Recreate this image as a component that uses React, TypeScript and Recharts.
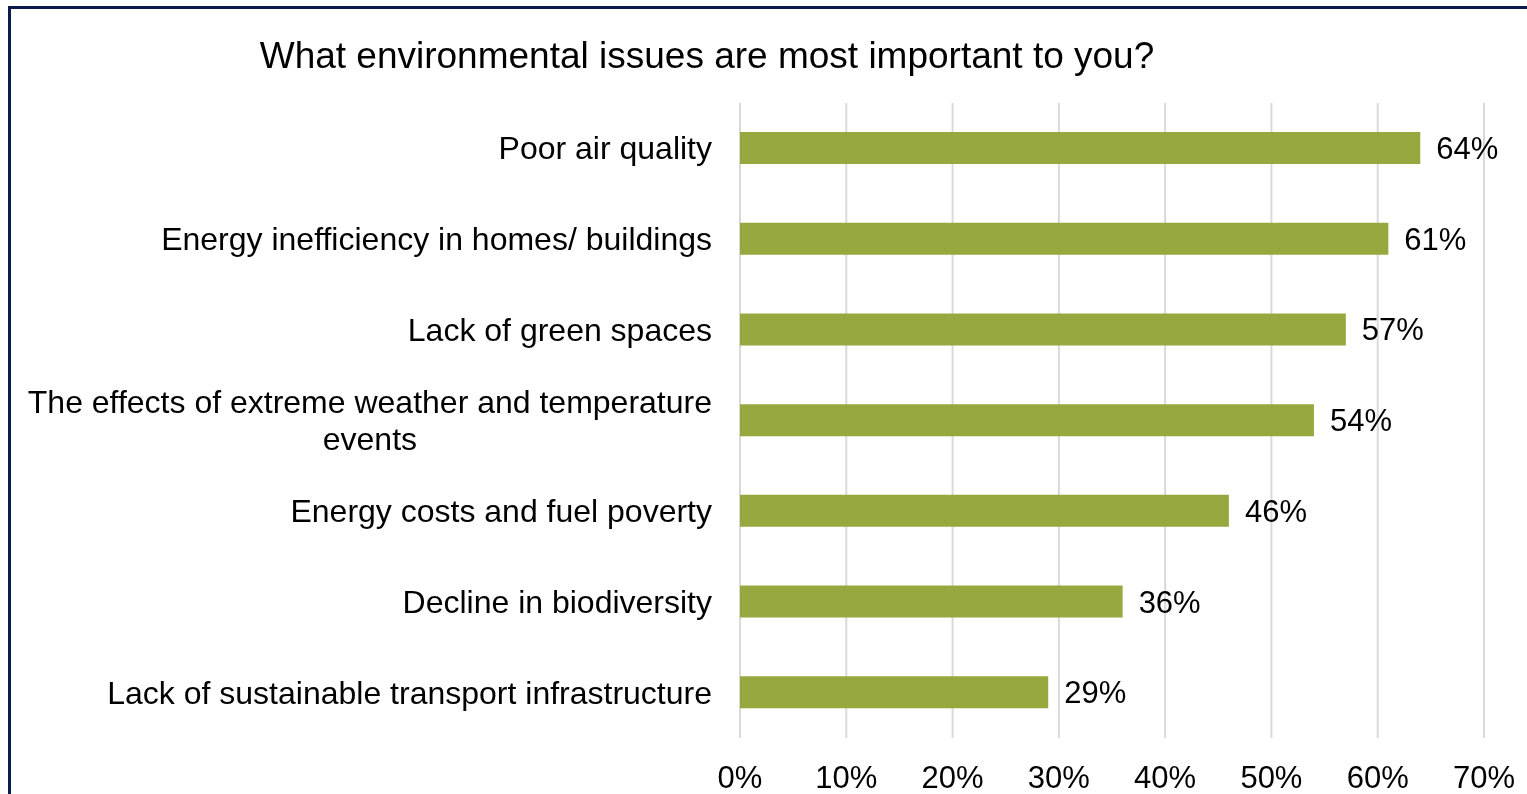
import { BarChart, Bar, XAxis, YAxis, CartesianGrid, LabelList } from "recharts";

const categories = [
  "Poor air quality",
  "Energy inefficiency in homes/ buildings",
  "Lack of green spaces",
  "The effects of extreme weather and temperature events",
  "Energy costs and fuel poverty",
  "Decline in biodiversity",
  "Lack of sustainable transport infrastructure",
];
const shares = [64, 61, 57, 54, 46, 36, 29];
const xTicks = [0, 10, 20, 30, 40, 50, 60, 70];

const data = categories.map((name, i) => ({ name, value: shares[i] }));

const FONT = '"Liberation Sans", Arial, sans-serif';
const LABEL_SIZE = 31;
const CAT_SIZE = 32;

let ctx: CanvasRenderingContext2D | null = null;
const measure = (s: string) => {
  if (!ctx) ctx = document.createElement("canvas").getContext("2d");
  if (!ctx) return s.length * CAT_SIZE * 0.5;
  ctx.font = `${CAT_SIZE}px ${FONT}`;
  return ctx.measureText(s).width;
};

const wrap = (label: string, maxW: number) => {
  const words = label.split(" ");
  const lines: string[] = [];
  let cur = "";
  words.forEach((w) => {
    const next = cur ? `${cur} ${w}` : w;
    if (cur && measure(next) > maxW) {
      lines.push(cur);
      cur = w;
    } else cur = next;
  });
  if (cur) lines.push(cur);
  return lines;
};

const CategoryTick = ({ x, y, payload }: any) => {
  const lines = wrap(payload.value, 705);
  const right = x - 28;
  if (lines.length === 1) {
    return (
      <text x={right} y={y} dy={11} textAnchor="end" fill="#000" fontSize={CAT_SIZE} fontFamily={FONT}>
        {lines[0]}
      </text>
    );
  }
  const widest = Math.max(...lines.map(measure));
  const center = right - widest / 2;
  const lh = 37;
  const start = y - ((lines.length - 1) * lh) / 2;
  return (
    <g>
      {lines.map((l, i) => (
        <text key={i} x={center} y={start + i * lh} dy={11} textAnchor="middle" fill="#000" fontSize={CAT_SIZE} fontFamily={FONT}>
          {l}
        </text>
      ))}
    </g>
  );
};

const PercentTick = ({ x, y, payload }: any) => (
  <text x={x} y={y} dy={50} textAnchor="middle" fill="#000" fontSize={LABEL_SIZE} fontFamily={FONT}>
    {`${payload.value}%`}
  </text>
);

export default function App() {
  return (
    <>
      <div
        style={{
          position: "fixed",
          left: 8,
          top: 6,
          width: 1600,
          height: 900,
          borderLeft: "3px solid #0c1a4b",
          borderTop: "3px solid #0c1a4b",
          background: "#fff",
        }}
      />
      <div
        style={{
          position: "fixed",
          left: 0,
          top: 37,
          width: 1414,
          textAlign: "center",
          fontFamily: FONT,
          fontSize: 37,
          lineHeight: "37px",
          color: "#000",
        }}
      >
        What environmental issues are most important to you?
      </div>
      <div style={{ position: "fixed", left: 0, top: 0 }}>
        <BarChart
          width={1527}
          height={794}
          data={data}
          layout="vertical"
          margin={{ top: 103, right: 43, bottom: 0, left: 0 }}
        >
          <CartesianGrid horizontal={false} stroke="#d9d9d9" strokeWidth={2} />
          <XAxis
            type="number"
            domain={[0, 70]}
            ticks={xTicks}
            axisLine={false}
            tickLine={false}
            tickSize={0}
            tickMargin={0}
            height={56}
            tick={<PercentTick />}
            interval={0}
          />
          <YAxis
            type="category"
            dataKey="name"
            width={740}
            axisLine={false}
            tickLine={false}
            tickSize={0}
            tickMargin={0}
            tick={<CategoryTick />}
            interval={0}
          />
          <Bar dataKey="value" fill="#97a83f" barSize={32} isAnimationActive={false}>
            <LabelList
              dataKey="value"
              position="right"
              offset={16}
              formatter={(v: any) => `${v}%`}
              fill="#000"
              fontSize={LABEL_SIZE}
              fontFamily={FONT}
            />
          </Bar>
        </BarChart>
      </div>
    </>
  );
}
